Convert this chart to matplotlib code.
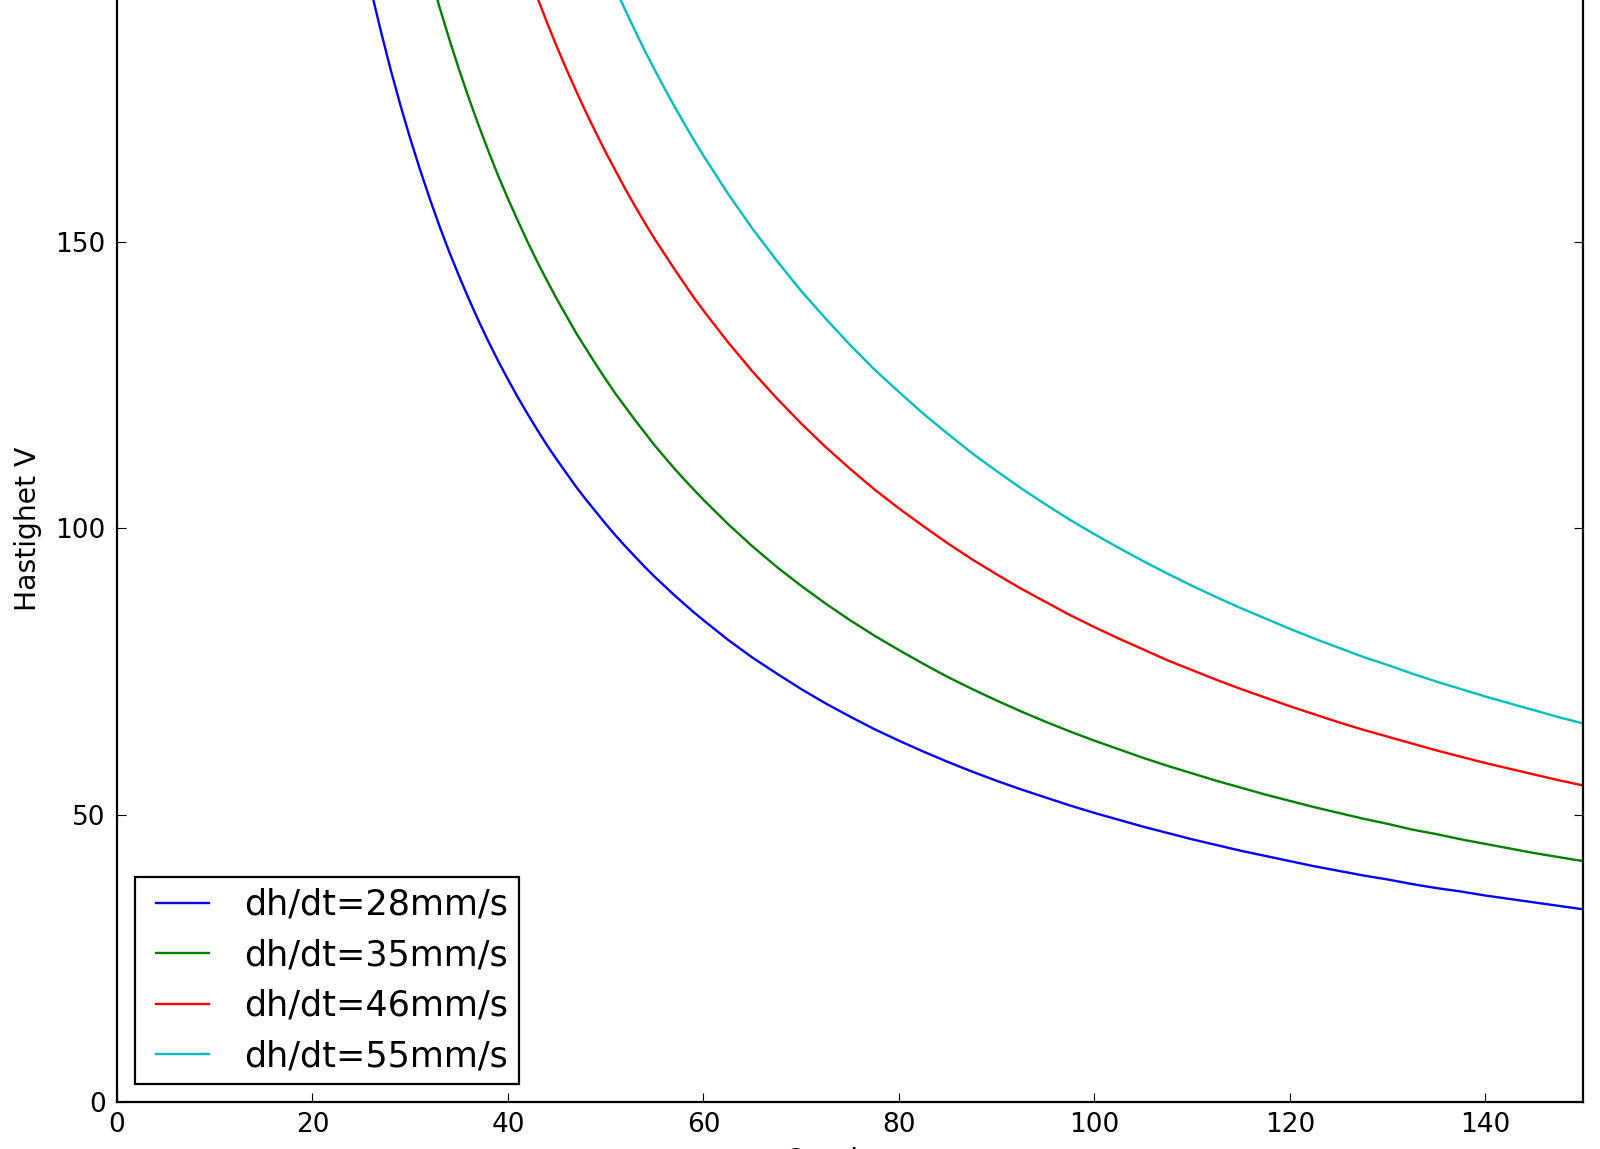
import matplotlib
matplotlib.use("Agg")
import matplotlib.pyplot as plt

x_vals = [25, 26, 27, 28, 29, 30, 31, 32, 33, 34, 35, 36, 37, 38, 39, 40, 41, 42, 43, 44,
          45, 46, 47, 48, 49, 50, 51, 52, 53, 54, 55, 56, 57, 58, 59, 60,
          62.5, 65, 67.5, 70, 72.5, 75, 77.5, 80, 82.5, 85, 87.5, 90, 92.5, 95, 97.5, 100,
          102.5, 105, 107.5, 110, 112.5, 115, 117.5, 120, 122.5, 125, 127.5, 130, 132.5, 135,
          137.5, 140, 142.5, 145, 147.5, 150]

# dh/dt = 28 mm/s  (x = 25 ... 150)
v_28 = [201.6, 193.8, 186.7, 180.0, 173.8, 168.0, 162.6, 157.5, 152.7, 148.2, 144.0, 140.0,
        136.2, 132.6, 129.2, 126.0, 122.9, 120.0, 117.2, 114.5, 112.0, 109.6, 107.2, 105.0,
        102.9, 100.8, 98.8, 96.9, 95.1, 93.3, 91.6, 90.0, 88.4, 86.9, 85.4, 84.0,
        80.6, 77.5, 74.7, 72.0, 69.5, 67.2, 65.0, 63.0, 61.1, 59.3, 57.6, 56.0, 54.5, 53.1,
        51.7, 50.4, 49.2, 48.0, 46.9, 45.8, 44.8, 43.8, 42.9, 42.0, 41.1, 40.3, 39.5, 38.8,
        38.0, 37.3, 36.7, 36.0, 35.4, 34.8, 34.2, 33.6]
# dh/dt = 35 mm/s  (x = 31 ... 150)
v_35 = [203.2, 196.9, 190.9, 185.3, 180.0, 175.0, 170.3, 165.8, 161.5, 157.5, 153.7, 150.0,
        146.5, 143.2, 140.0, 137.0, 134.0, 131.3, 128.6, 126.0, 123.5, 121.2, 118.9, 116.7,
        114.5, 112.5, 110.5, 108.6, 106.8, 105.0,
        100.8, 96.9, 93.3, 90.0, 86.9, 84.0, 81.3, 78.8, 76.4, 74.1, 72.0, 70.0, 68.1, 66.3,
        64.6, 63.0, 61.5, 60.0, 58.6, 57.3, 56.0, 54.8, 53.6, 52.5, 51.4, 50.4, 49.4, 48.5,
        47.5, 46.7, 45.8, 45.0, 44.2, 43.4, 42.7, 42.0]
# dh/dt = 46 mm/s  (x = 41 ... 150)
v_46 = [202.0, 197.1, 192.6, 188.2, 184.0, 180.0, 176.2, 172.5, 169.0, 165.6, 162.4, 159.2,
        156.2, 153.3, 150.5, 147.9, 145.3, 142.8, 140.3, 138.0,
        132.5, 127.4, 122.7, 118.3, 114.2, 110.4, 106.8, 103.5, 100.4, 97.4, 94.6, 92.0,
        89.5, 87.2, 84.9, 82.8, 80.8, 78.9, 77.0, 75.3, 73.6, 72.0, 70.5, 69.0, 67.6, 66.2,
        64.9, 63.7, 62.5, 61.3, 60.2, 59.1, 58.1, 57.1, 56.1, 55.2]
# dh/dt = 55 mm/s  (x = 49 ... 150)
v_55 = [202.0, 198.0, 194.1, 190.4, 186.8, 183.3, 180.0, 176.8, 173.7, 170.7, 167.8, 165.0,
        158.4, 152.3, 146.7, 141.4, 136.6, 132.0, 127.7, 123.8, 120.0, 116.5, 113.1, 110.0,
        107.0, 104.2, 101.5, 99.0, 96.6, 94.3, 92.1, 90.0, 88.0, 86.1, 84.3, 82.5, 80.8,
        79.2, 77.6, 76.2, 74.7, 73.3, 72.0, 70.7, 69.5, 68.3, 67.1, 66.0]

labels = ["dh/dt=28mm/s", "dh/dt=35mm/s", "dh/dt=46mm/s", "dh/dt=55mm/s"]
colors = ["#0000ff", "#008000", "#ff0000", "#00bfbf"]
series = [v_28, v_35, v_46, v_55]

x_ticks = [0, 20, 40, 60, 80, 100, 120, 140]
y_ticks = [0, 50, 100, 150]

plt.rcParams['font.family'] = ['DejaVu Sans']

fig = plt.figure(figsize=(16, 11.49), dpi=100)
fig.patch.set_facecolor("white")
ax = fig.add_axes([0.0731, 0.0409, 0.9164, 0.9983])

for vals, lab, col in zip(series, labels, colors):
    ax.plot(x_vals[len(x_vals) - len(vals):], vals, color=col, lw=1.7, label=lab)

ax.set_xlim(0, 150)
ax.set_ylim(0, 200)
ax.set_xticks(x_ticks)
ax.set_yticks(y_ticks)

for sp in ax.spines.values():
    sp.set_linewidth(1.6)
    sp.set_color("black")

ax.tick_params(direction="in", top=True, right=True, length=6.3, width=0.8,
               labelsize=19, color="black")
ax.tick_params(axis="y", pad=8)
ax.tick_params(axis="x", pad=7)

ax.set_ylabel("Hastighet V", fontsize=20.3, labelpad=10)
ax.set_xlabel("Quadrant", fontsize=20, labelpad=6)

leg = ax.legend(loc="lower left", fontsize=25.2, numpoints=2, fancybox=False,
                framealpha=1, edgecolor="black", borderpad=0.3, labelspacing=0.47,
                handlelength=2.11, handletextpad=0.7, borderaxespad=0.52)
leg.get_frame().set_linewidth(1.6)
leg.set_zorder(5)

fig.savefig("out.png", dpi=100, facecolor="white")
